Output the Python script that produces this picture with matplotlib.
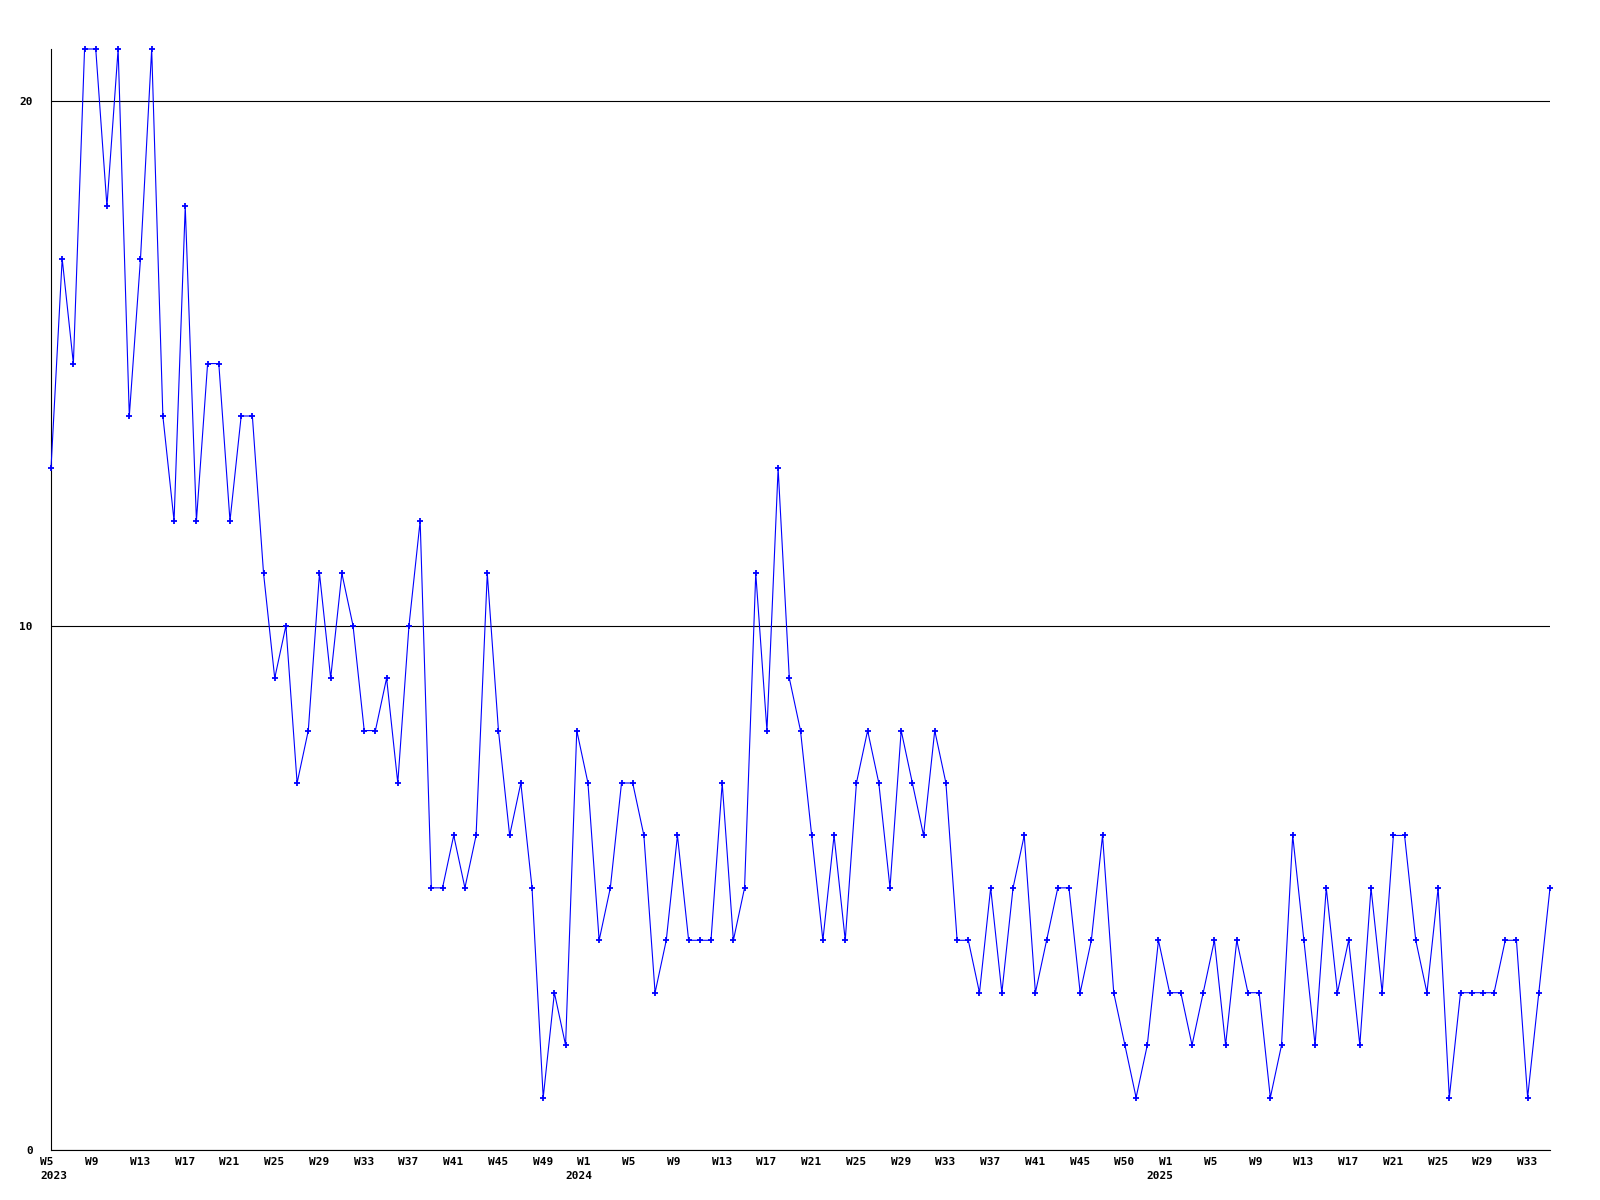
import numpy as np
import matplotlib
matplotlib.use('Agg')
import matplotlib.pyplot as plt
import matplotlib.transforms as mtransforms

# weekly counts (2023 starts at W5, 2025 ends at W35)
counts_2023 = [13, 17, 15, 21, 21, 18, 21, 14, 17, 21,
               14, 12, 18, 12, 15, 15, 12, 14, 14, 11,
               9, 10, 7, 8, 11, 9, 11, 10, 8, 8,
               9, 7, 10, 12, 5, 5, 6, 5, 6, 11,
               8, 6, 7, 5, 1, 3, 2, 8]
counts_2024 = [7, 4, 5, 7, 7, 6, 3, 4, 6, 4,
               4, 4, 7, 4, 5, 11, 8, 13, 9, 8,
               6, 4, 6, 4, 7, 8, 7, 5, 8, 7,
               6, 8, 7, 4, 4, 3, 5, 3, 5, 6,
               3, 4, 5, 5, 3, 4, 6, 3, 2, 1,
               2, 4]
counts_2025 = [3, 3, 2, 3, 4, 2, 4, 3, 3, 1,
               2, 6, 4, 2, 5, 3, 4, 2, 5, 3,
               6, 6, 4, 3, 5, 1, 3, 3, 3, 3,
               4, 4, 1, 3, 5]

tick_labels = ['W5', 'W9', 'W13', 'W17', 'W21', 'W25', 'W29', 'W33', 'W37', 'W41', 'W45', 'W49',
               'W1', 'W5', 'W9', 'W13', 'W17', 'W21', 'W25', 'W29', 'W33', 'W37', 'W41', 'W45', 'W50',
               'W1', 'W5', 'W9', 'W13', 'W17', 'W21', 'W25', 'W29', 'W33']
year_labels = ['2023', '2024', '2025']

values = counts_2023 + counts_2024 + counts_2025
x = np.arange(len(values))
year_starts = [0, len(counts_2023), len(counts_2023) + len(counts_2024)]

font = dict(family='DejaVu Sans Mono', weight='bold', size=8)

fig = plt.figure(figsize=(16, 12), dpi=100)
ax = fig.add_axes([51 / 1600, 50 / 1200, 1499 / 1600, 1101 / 1200])

ax.plot(x, values, color='#0000ff', lw=0.8, marker='+', ms=4, mew=1.3, clip_on=False, zorder=3)

ax.set_xlim(0, len(values) - 1)
ax.set_ylim(0, 21)

# only left and bottom axis lines
for side in ['top', 'right']:
    ax.spines[side].set_visible(False)
for side in ['left', 'bottom']:
    ax.spines[side].set_color('black')
    ax.spines[side].set_linewidth(0.8)

ax.set_yticks([0, 10, 20])
ax.set_yticklabels(['0', '10', '20'], **font)
ax.yaxis.grid(True, color='black', lw=0.8)
ax.set_axisbelow(True)

ax.set_xticks(np.arange(0, len(values), 4))
ax.set_xticklabels(tick_labels, ha='left', **font)
ax.tick_params(axis='both', length=0)
ax.tick_params(axis='y', pad=13)
ax.tick_params(axis='x', pad=5)

# week labels start a little left of their point
offset = mtransforms.ScaledTranslation(-10.5 / 100, 0, fig.dpi_scale_trans)
for lbl in ax.get_xticklabels():
    lbl.set_transform(lbl.get_transform() + offset)

# year under the first week of each year
for i, (pos, year) in enumerate(zip(year_starts, year_labels)):
    dx = -10.5 if i == 0 else -23
    tr = ax.get_xaxis_transform() + mtransforms.ScaledTranslation(dx / 100, -21 / 100, fig.dpi_scale_trans)
    ax.text(pos, 0, year, transform=tr, ha='left', va='top', **font)

fig.savefig('out.png', dpi=100, facecolor='white')
